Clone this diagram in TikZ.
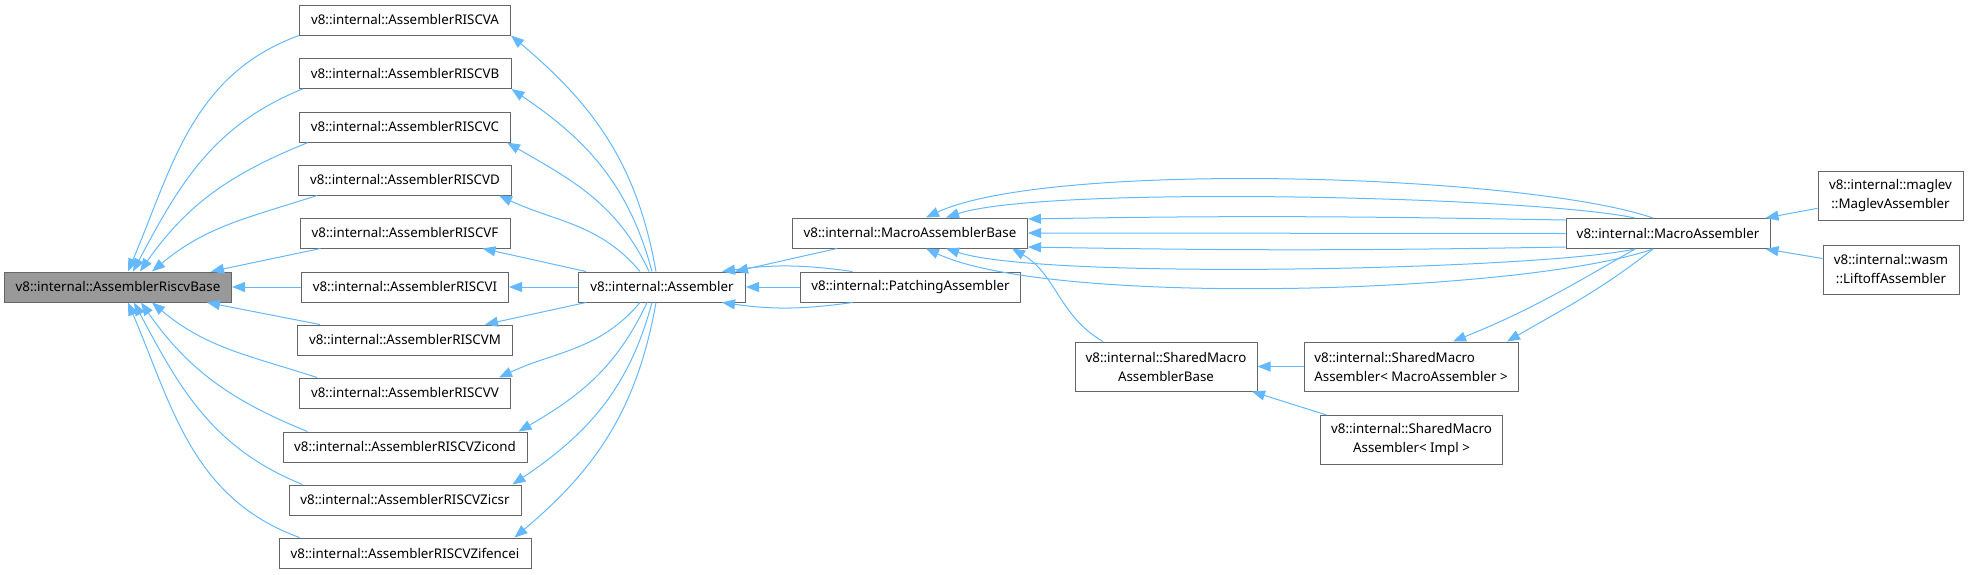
\documentclass[tikz,border=0pt]{standalone}
\usepackage{fontspec}
\setmainfont{Noto Sans}
\usepackage{xcolor}
\usetikzlibrary{arrows.meta,positioning}

\definecolor{edgeblue}{HTML}{63B8FF}
\definecolor{boxline}{HTML}{666666}
\definecolor{basefill}{HTML}{999999}

\begin{document}
\begin{tikzpicture}[
  x=1pt, y=1pt,
  cls/.style={draw=boxline, line width=1pt, fill=white, align=center,
    minimum height=30pt, inner xsep=4pt, inner ysep=2pt,
    font=\fontsize{13.33}{19}\selectfont},
  cls2/.style={cls, minimum height=49pt},
  inh/.style={draw=edgeblue, line width=1pt, -{Triangle[length=13pt,width=10pt]}}
]
  \useasboundingbox (0,0) rectangle (1968,-574);
  % classes
  \node[cls, fill=basefill, minimum width=227pt] (base) at (118,-287) {v8::internal::AssemblerRiscvBase};
  \node[cls, minimum width=211pt] (rvA) at (405,-20) {v8::internal::AssemblerRISCVA};
  \node[cls, minimum width=212pt] (rvB) at (405,-73.5) {v8::internal::AssemblerRISCVB};
  \node[cls, minimum width=211pt] (rvC) at (405,-127) {v8::internal::AssemblerRISCVC};
  \node[cls, minimum width=213pt] (rvD) at (405,-180) {v8::internal::AssemblerRISCVD};
  \node[cls, minimum width=210pt] (rvF) at (405,-233) {v8::internal::AssemblerRISCVF};
  \node[cls, minimum width=207pt] (rvI) at (405,-287) {v8::internal::AssemblerRISCVI};
  \node[cls, minimum width=215pt] (rvM) at (405,-340) {v8::internal::AssemblerRISCVM};
  \node[cls, minimum width=211pt] (rvV) at (405,-393) {v8::internal::AssemblerRISCVV};
  \node[cls, minimum width=244pt] (rvZicond) at (405,-447) {v8::internal::AssemblerRISCVZicond};
  \node[cls, minimum width=232pt] (rvZicsr) at (405,-500) {v8::internal::AssemblerRISCVZicsr};
  \node[cls, minimum width=252pt] (rvZifencei) at (405,-553) {v8::internal::AssemblerRISCVZifencei};
  \node[cls, minimum width=167pt] (asm) at (662,-287) {v8::internal::Assembler};
  \node[cls, minimum width=220pt] (patch) at (910.5,-287) {v8::internal::PatchingAssembler};
  \node[cls, minimum width=235pt] (mabase) at (910,-233) {v8::internal::MacroAssemblerBase};
  \node[cls2, minimum width=182pt] (smabase) at (1166,-366.5) {v8::internal::SharedMacro\\AssemblerBase};
  \node[cls2, minimum width=214pt, align=left] (smaMA) at (1411,-366.5) {v8::internal::SharedMacro\\Assembler< MacroAssembler >};
  \node[cls2, minimum width=182pt] (smaImpl) at (1411.5,-440) {v8::internal::SharedMacro\\Assembler< Impl >};
  \node[cls, minimum width=204pt] (masm) at (1668,-233.5) {v8::internal::MacroAssembler};
  \node[cls2, minimum width=145pt] (maglev) at (1890.5,-195.5) {v8::internal::maglev\\::MaglevAssembler};
  \node[cls2, minimum width=136pt] (liftoff) at (1891,-269.5) {v8::internal::wasm\\::LiftoffAssembler};

  % extensions to AssemblerRiscvBase
  \draw[inh] (rvA.south west) to[out=200,in=67] ([xshift=10]base.north);
  \draw[inh] ([xshift=4]rvB.south west) to[out=202,in=62] ([xshift=15]base.north);
  \draw[inh] ([xshift=9]rvC.south west) to[out=202,in=55] ([xshift=22]base.north);
  \draw[inh] ([xshift=19]rvD.south west) to[out=198,in=40] ([xshift=34]base.north);
  \draw[inh] ([xshift=21]rvF.south west) -- ([xshift=93]base.north);
  \draw[inh] (rvI.west) -- (base.east);
  \draw[inh] ([xshift=23]rvM.north west) -- ([xshift=89]base.south);
  \draw[inh] ([xshift=18]rvV.north west) to[out=162,in=-40] ([xshift=34]base.south);
  \draw[inh] ([xshift=25]rvZicond.north west) to[out=158,in=-55] ([xshift=23]base.south);
  \draw[inh] ([xshift=14]rvZicsr.north west) to[out=158,in=-62] ([xshift=16]base.south);
  \draw[inh] ([xshift=21]rvZifencei.north west) to[out=160,in=-67] ([xshift=10]base.south);

  % Assembler
  \draw[inh] ([xshift=-6]asm.north) to[out=100,in=-40] (rvA.south east);
  \draw[inh] ([xshift=-10]asm.north) to[out=105,in=-34] (rvB.south east);
  \draw[inh] ([xshift=-13]asm.north) to[out=115,in=-30] ([xshift=-4]rvC.south east);
  \draw[inh] ([xshift=-22]asm.north) to[out=130,in=-25] ([xshift=-13]rvD.south east);
  \draw[inh] ([xshift=-76]asm.north) -- ([xshift=-28]rvF.south east);
  \draw[inh] (asm.west) -- (rvI.east);
  \draw[inh] ([xshift=-76]asm.south) -- ([xshift=-28]rvM.north east);
  \draw[inh] ([xshift=-22]asm.south) to[out=-130,in=25] ([xshift=-12]rvV.north east);
  \draw[inh] ([xshift=-15]asm.south) to[out=-115,in=30] ([xshift=-9]rvZicond.north east);
  \draw[inh] ([xshift=-10]asm.south) to[out=-105,in=34] ([xshift=-9]rvZicsr.north east);
  \draw[inh] ([xshift=-6]asm.south) to[out=-100,in=40] ([xshift=-17]rvZifencei.north east);

  \draw[inh] ([xshift=-58]patch.north) to[out=172,in=8] ([xshift=60]asm.north);
  \draw[inh] (patch.west) -- (asm.east);
  \draw[inh] ([xshift=-58]patch.south) to[out=188,in=-8] ([xshift=60]asm.south);
  \draw[inh] ([xshift=-73]mabase.south) -- ([xshift=73]asm.north);

  % MacroAssemblerBase
  \draw[inh] ([xshift=-15]masm.north) to[out=161,in=25,looseness=0.48] ([xshift=16]mabase.north);
  \draw[inh] ([xshift=-33]masm.north) to[out=168,in=18,looseness=0.39] ([xshift=36]mabase.north);
  \draw[inh] ([yshift=13.5]masm.west) to[out=179,in=1] ([yshift=14]mabase.east);
  \draw[inh] (masm.west) -- (mabase.east);
  \draw[inh] ([yshift=-13.5]masm.west) to[out=181,in=-1] ([yshift=-14]mabase.east);
  \draw[inh] ([xshift=-33]masm.south) to[out=192,in=-18,looseness=0.38] ([xshift=36]mabase.south);
  \draw[inh] ([xshift=-15]masm.south) to[out=199,in=-25,looseness=0.49] ([xshift=16]mabase.south);
  \draw[inh] ([xshift=-63]smabase.north) to[out=150,in=-30] ([xshift=102]mabase.south);

  % SharedMacroAssembler
  \draw[inh] (smaMA.west) -- (smabase.east);
  \draw[inh] ([xshift=-85]smaImpl.north) -- ([xshift=86]smabase.south);
  \draw[inh] ([xshift=-33]masm.south) to[out=210,in=22] ([xshift=42]smaMA.north);
  \draw[inh] ([xshift=-15]masm.south) to[out=218,in=30] ([xshift=96]smaMA.north);

  % MacroAssembler
  \draw[inh] ([yshift=-12.8]maglev.west) -- ([xshift=-5]masm.north east);
  \draw[inh] ([yshift=11]liftoff.west) -- ([xshift=-5]masm.south east);
\end{tikzpicture}
\end{document}
